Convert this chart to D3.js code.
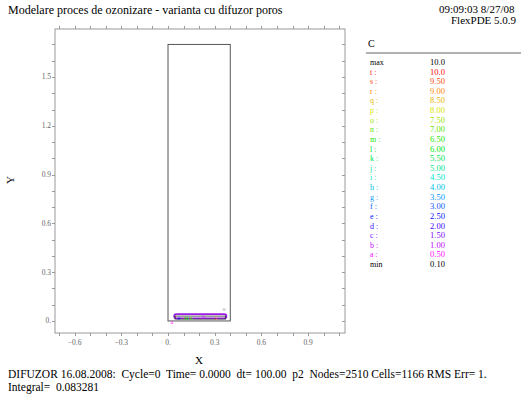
<!DOCTYPE html>
<html>
<head>
<meta charset="utf-8">
<script src="https://cdn.jsdelivr.net/npm/d3@7"></script>
<style>
  body { margin: 0; background: #fff; }
  text { font-family: "Liberation Serif", "DejaVu Serif", serif; white-space: pre; }
</style>
</head>
<body>
<div id="chart"></div>
<script>
// chart values
const xTicks = [-0.6, -0.3, 0, 0.3, 0.6, 0.9];
const yTicks = [0, 0.3, 0.6, 0.9, 1.2, 1.5];
const legendKeys = ['t', 's', 'r', 'q', 'p', 'o', 'n', 'm', 'l', 'k', 'j', 'i', 'h', 'g', 'f', 'e', 'd', 'c', 'b', 'a'];
const legendValues = [10.0, 9.5, 9.0, 8.5, 8.0, 7.5, 7.0, 6.5, 6.0, 5.5, 5.0, 4.5, 4.0, 3.5, 3.0, 2.5, 2.0, 1.5, 1.0, 0.5];
const cMax = 10.0;
const cMin = 0.10;
// geometry of the domain (outer box) and the diffuser strip
const domainBox = [[0, 0], [0.4, 1.7]];
const diffuserBox = [[0.045, 0.012], [0.37, 0.03]];
const contourA = [[0.04, 0.016], [0.375, 0.042]];
const contourLabels = [
  { k: 'e', x: 0.07, y: 0.02 }, { k: 'm', x: 0.12, y: 0.02 }, { k: 'n', x: 0.15, y: 0.02 },
  { k: 'b', x: 0.23, y: 0.025 }, { k: 'r', x: 0.31, y: 0.02 }, { k: 'o', x: 0.36, y: 0.075 },
  { k: 'a', x: 0.025, y: -0.008 }
];

const width = 521, height = 394;
const svg = d3.select('#chart').append('svg')
  .attr('width', width).attr('height', height);

const plot = { left: 55, right: 345, top: 29, bottom: 333 };
const x = d3.scaleLinear().domain([-0.726, 1.137]).range([plot.left, plot.right]);
const y = d3.scaleLinear().domain([-0.074, 1.795]).range([plot.bottom, plot.top]);

// color per legend key (red -> magenta)
const hue = d3.scaleLinear().domain([0, legendKeys.length - 1]).range([0, 300]);
const keyColor = {};
legendKeys.forEach((k, i) => {
  const h = hue(i);
  keyColor[k] = d3.hsl(h, 1, h > 45 && h < 200 ? 0.45 : 0.52).formatHex();
});

// title
svg.append('text').attr('x', 8).attr('y', 14).style('font-size', '12px').text('Modelare proces de ozonizare - varianta cu difuzor poros');
svg.append('text').attr('x', 439).attr('y', 13).style('font-size', '11px').text('09:09:03 8/27/08');
svg.append('text').attr('x', 451).attr('y', 24).style('font-size', '11px').text('FlexPDE 5.0.9');

// frame
const axisColor = '#9a9a9a';
svg.append('rect')
  .attr('x', plot.left).attr('y', plot.top)
  .attr('width', plot.right - plot.left).attr('height', plot.bottom - plot.top)
  .attr('fill', 'none').attr('stroke', axisColor).attr('stroke-width', 1);

// minor ticks every 0.1
const minorX = d3.range(-7, 12).map(d => d / 10);
const minorY = d3.range(0, 18).map(d => d / 10);
const tickG = svg.append('g').attr('stroke', axisColor).attr('stroke-width', 1);
minorX.forEach(v => {
  const px = Math.round(x(v)) + 0.5;
  tickG.append('line').attr('x1', px).attr('x2', px).attr('y1', plot.top - 3).attr('y2', plot.top);
  tickG.append('line').attr('x1', px).attr('x2', px).attr('y1', plot.bottom).attr('y2', plot.bottom + 3);
});
minorY.forEach(v => {
  const py = Math.round(y(v)) + 0.5;
  tickG.append('line').attr('x1', plot.left - 3).attr('x2', plot.left).attr('y1', py).attr('y2', py);
  tickG.append('line').attr('x1', plot.right - 3).attr('x2', plot.right).attr('y1', py).attr('y2', py);
});

const fmt = v => v === 0 ? '0.' : d3.format('.1f')(v);
svg.append('g').selectAll('text').data(xTicks).join('text')
  .attr('x', d => x(d)).attr('y', plot.bottom + 12)
  .attr('text-anchor', 'middle').style('font-size', '7.5px').attr('fill', '#666')
  .text(fmt);
svg.append('g').selectAll('text').data(yTicks).join('text')
  .attr('x', plot.left - 4).attr('y', d => y(d) + 2.5)
  .attr('text-anchor', 'end').style('font-size', '7.5px').attr('fill', '#666')
  .text(fmt);

svg.append('text').attr('x', 199).attr('y', 364).attr('text-anchor', 'middle').style('font-size', '11px').text('X');
svg.append('text').attr('transform', 'translate(14,180) rotate(-90)').attr('text-anchor', 'middle').style('font-size', '11px').text('Y');

// domain box
svg.append('rect')
  .attr('x', x(domainBox[0][0])).attr('y', y(domainBox[1][1]))
  .attr('width', x(domainBox[1][0]) - x(domainBox[0][0]))
  .attr('height', y(domainBox[0][1]) - y(domainBox[1][1]))
  .attr('fill', 'none').attr('stroke', '#555').attr('stroke-width', 1);

// diffuser strip and contour
svg.append('rect')
  .attr('x', x(contourA[0][0])).attr('y', y(contourA[1][1]))
  .attr('width', x(contourA[1][0]) - x(contourA[0][0]))
  .attr('height', y(contourA[0][1]) - y(contourA[1][1]))
  .attr('rx', 2)
  .attr('fill', 'none').attr('stroke', '#9a1ee6').attr('stroke-width', 1.8);
svg.append('rect')
  .attr('x', x(diffuserBox[0][0])).attr('y', y(diffuserBox[1][1]))
  .attr('width', x(diffuserBox[1][0]) - x(diffuserBox[0][0]))
  .attr('height', y(diffuserBox[0][1]) - y(diffuserBox[1][1]))
  .attr('fill', 'none').attr('stroke', '#333').attr('stroke-width', 0.8);
svg.append('g').selectAll('text').data(contourLabels).join('text')
  .attr('x', d => x(d.x)).attr('y', d => y(d.y) + 2)
  .attr('text-anchor', 'middle').style('font-size', '6px')
  .attr('fill', d => d.k === 'o' ? '#888' : keyColor[d.k])
  .text(d => d.k);

// legend
const lg = svg.append('g');
lg.append('text').attr('x', 368).attr('y', 47).style('font-size', '10px').text('C');
lg.append('line').attr('x1', 366).attr('x2', 521).attr('y1', 53).attr('y2', 53)
  .attr('stroke', '#999').attr('stroke-width', 1.5);
const rows = [{ k: 'max', v: cMax, c: '#000' }]
  .concat(legendKeys.map((k, i) => ({ k: k + ' :', v: legendValues[i], c: keyColor[k] })))
  .concat([{ k: 'min', v: cMin, c: '#000' }]);
const rowY = d3.scaleLinear().domain([0, rows.length - 1]).range([65, 267]);
const vfmt = v => v >= 10 ? v.toFixed(1) : v.toFixed(2);
lg.selectAll('.lk').data(rows).join('text').attr('class', 'lk')
  .attr('x', 370).attr('y', (d, i) => rowY(i)).style('font-size', '8px')
  .attr('fill', d => d.c).text(d => d.k);
lg.selectAll('.lv').data(rows).join('text').attr('class', 'lv')
  .attr('x', 430).attr('y', (d, i) => rowY(i)).style('font-size', '8.5px')
  .attr('fill', d => d.c).text(d => vfmt(d.v));

// footer
svg.append('text').attr('x', 8).attr('y', 378).style('font-size', '11.5px')
  .text('DIFUZOR 16.08.2008:  Cycle=0  Time= 0.0000  dt= 100.00  p2  Nodes=2510 Cells=1166 RMS Err= 1.');
svg.append('text').attr('x', 8).attr('y', 391).style('font-size', '11.5px')
  .text('Integral=  0.083281');
</script>
</body>
</html>
